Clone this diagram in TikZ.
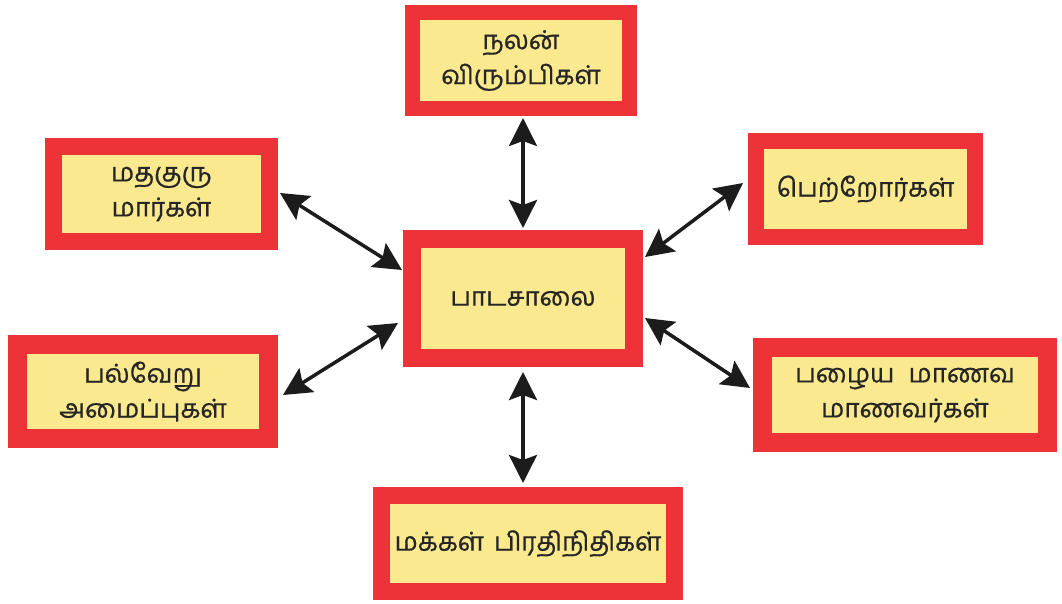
\documentclass[tikz,border=0pt]{standalone}
\usepackage{fontspec}
\newfontfamily\tamil[Script=Tamil,FakeBold=0.7]{Hind Madurai}
\usetikzlibrary{arrows.meta,calc}
\definecolor{boxred}{RGB}{237,50,56}
\definecolor{boxyel}{RGB}{250,233,142}
\definecolor{arrowblack}{RGB}{28,28,28}
\begin{document}
\begin{tikzpicture}[x=1pt,y=-1pt,
  box/.style n args={3}{draw=boxred, fill=boxyel, line width=#1pt,
    minimum width={#2-#1}, minimum height={#3-#1}, inner sep=0pt,
    align=center, text=black!85, font=\tamil\fontsize{26}{35}\selectfont},
  arr/.style={{Stealth[length=28pt,width=28pt,inset=5pt]}-{Stealth[length=28pt,width=28pt,inset=5pt]},
    line width=3.5pt, draw=arrowblack}]
\useasboundingbox[fill=white] (0,0) rectangle (1062,604);
\node[box={15}{232}{111}] (t) at (521,60.5) {நலன்\\விரும்பிகள்};
\node[box={18}{240}{137}] (c) at (523,298.5) {பாடசாலை};
\node[box={17}{233}{112}] (lt) at (161.5,194) {மதகுரு\\மார்கள்};
\node[box={19}{270}{113}] (lb) at (143,391.5) {பல்வேறு\\அமைப்புகள்};
\node[box={16}{235}{112}] (rt) at (865.5,189) {பெற்றோர்கள்};
\node[box={19}{304}{114}] (rb) at (905,395) {பழைய\hspace{14pt}மாணவ\\மாணவர்கள்};
\node[box={17}{310}{113}] (b) at (528,543.5) {மக்கள்\hspace{10pt}பிரதிநிதிகள்};
\draw[arr] ($(t.south)+(2,2)$) -- ($(c.north)+(0,-2)$);
\draw[arr] ($(lt.east)+(2,-1)$) -- ($(c.west)+(-1,-28.5)$);
\draw[arr] ($(rt.west)+(-5,-6)$) -- ($(c.east)+(2,-41.5)$);
\draw[arr] ($(c.east)+(2,19.5)$) -- ($(rb.west)+(-3,-7)$);
\draw[arr] ($(c.west)+(-5,24.5)$) -- ($(lb.east)+(5,3.5)$);
\draw[arr] ($(c.south)+(0,5)$) -- ($(b.north)+(-5,-4)$);
\end{tikzpicture}
\end{document}
